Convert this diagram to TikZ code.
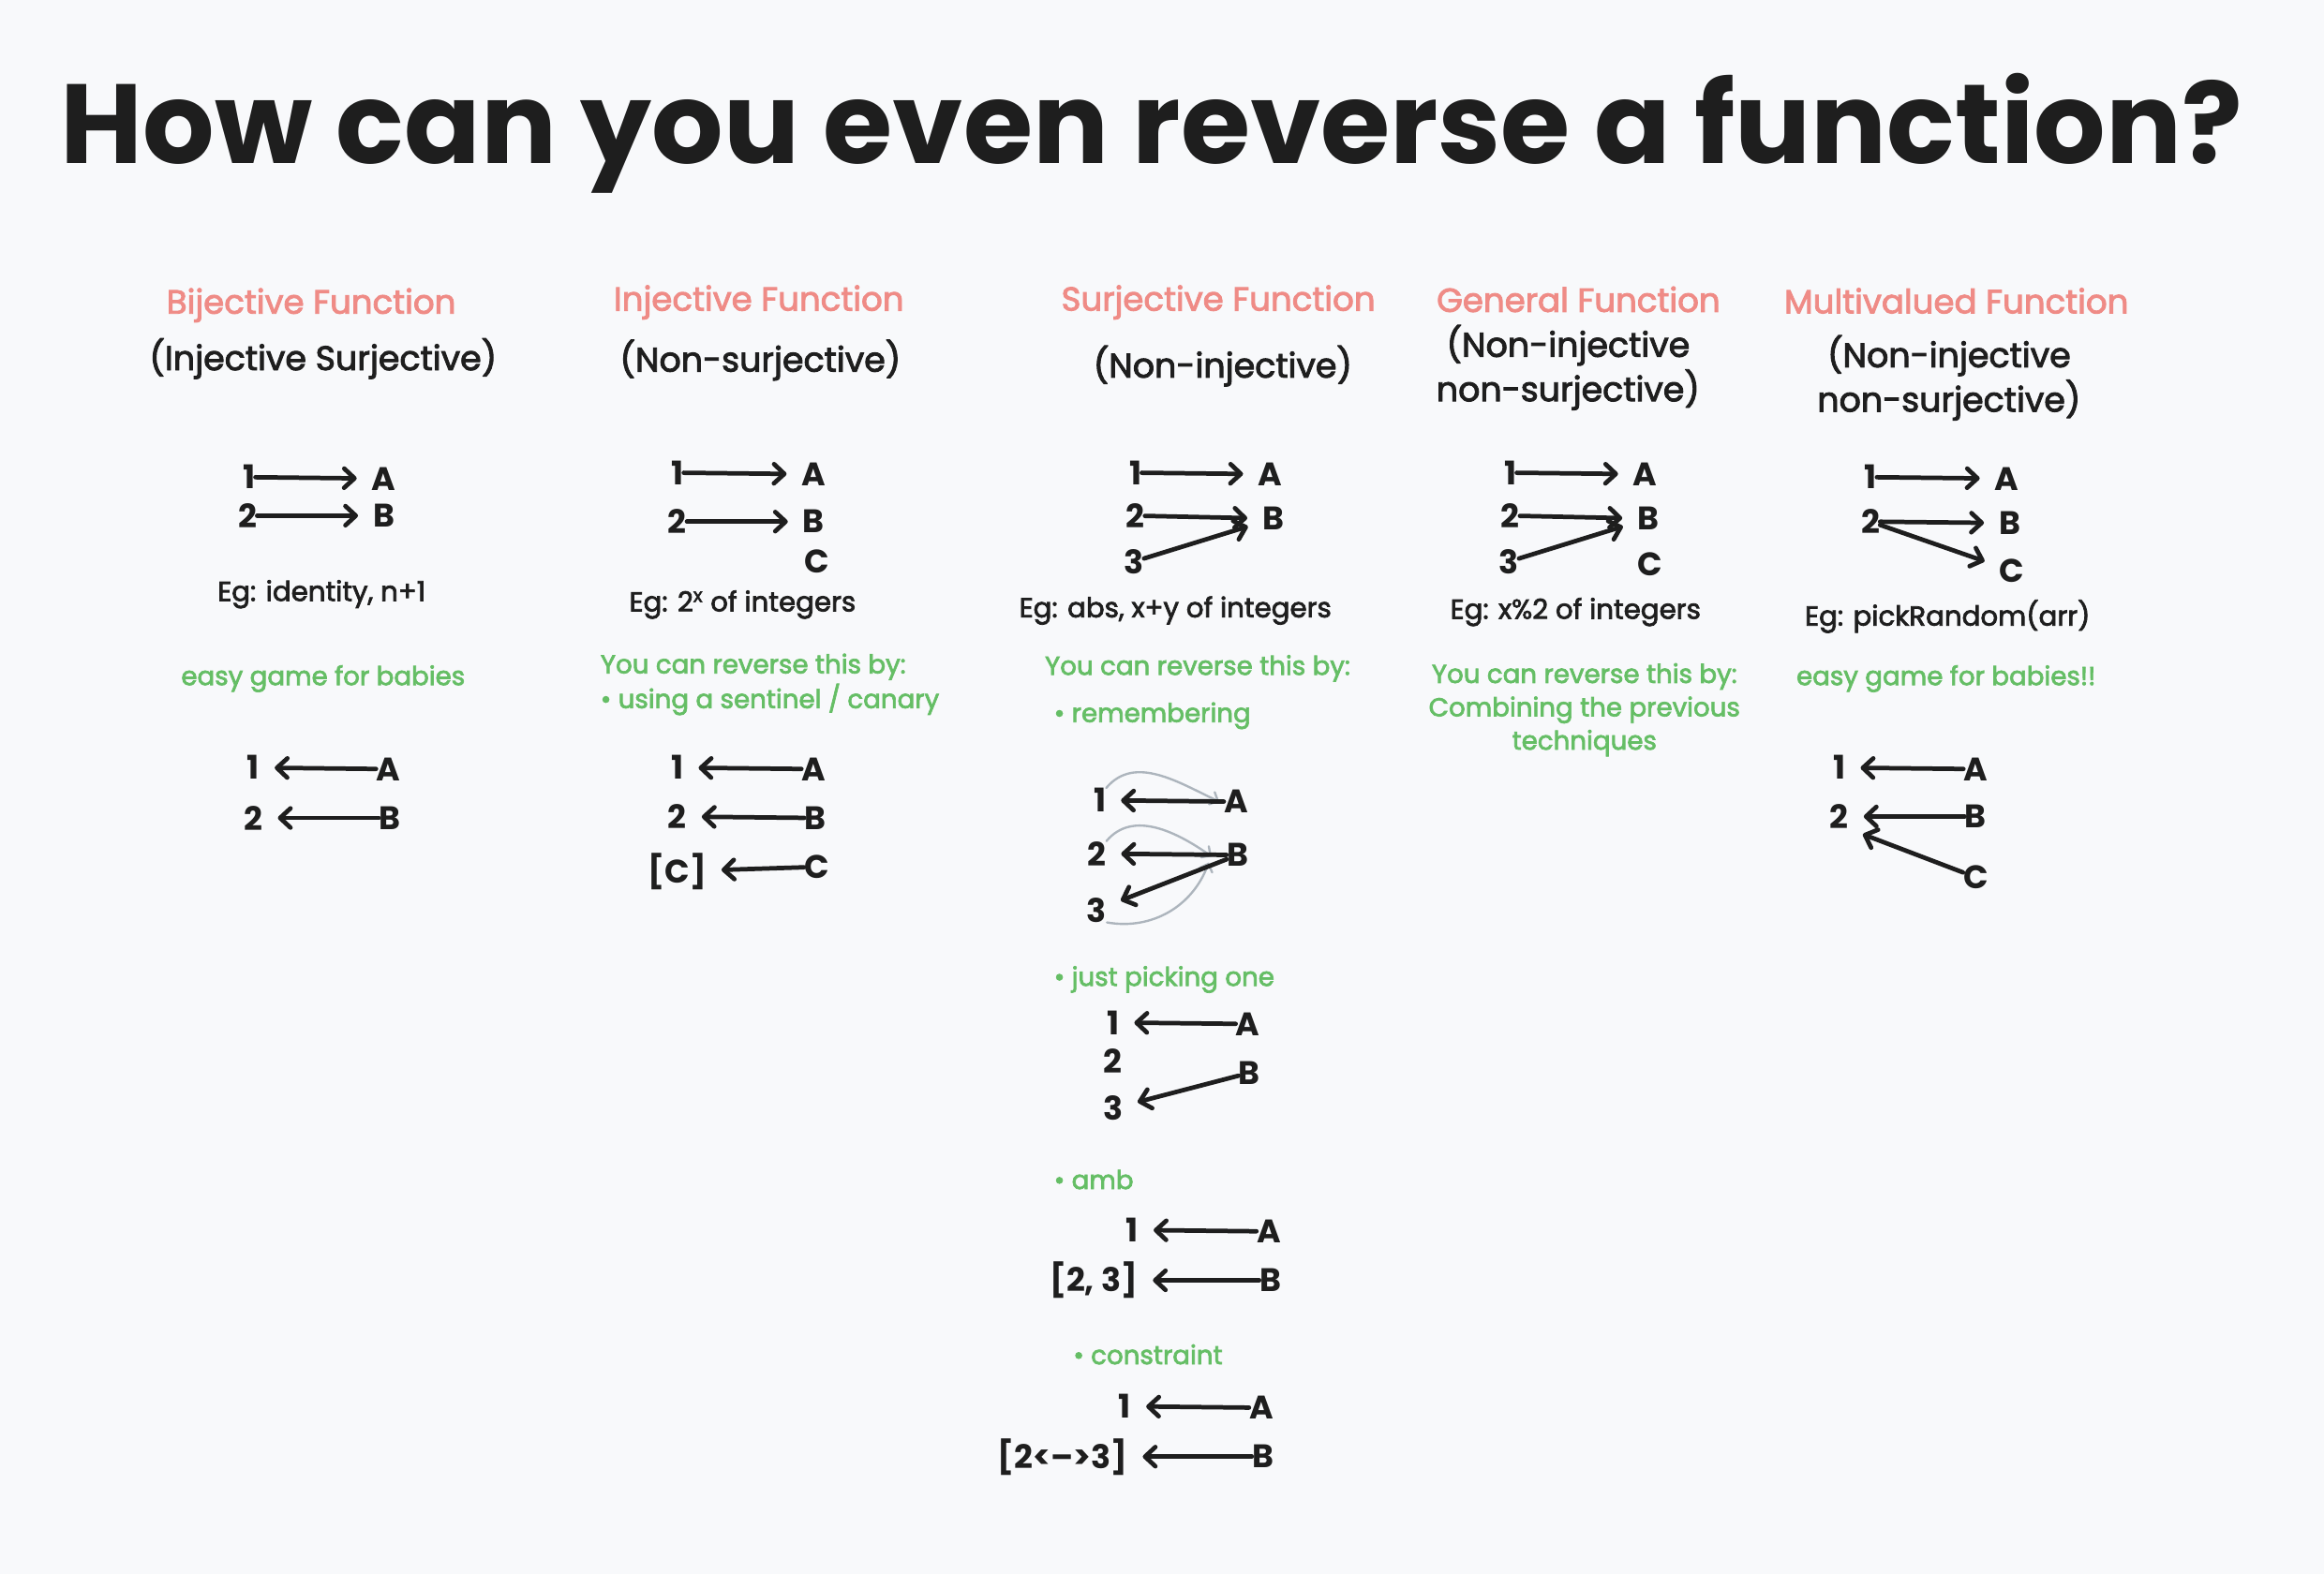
\documentclass[tikz,border=0pt]{standalone}
\usepackage{fontspec}
\setmainfont{Poppins}
\newfontfamily\hf{Poppins}[FakeBold=2.5]
\usetikzlibrary{arrows.meta}
\definecolor{bgc}{HTML}{F8F9FB}
\definecolor{pinkc}{HTML}{EF8B86}
\definecolor{greenc}{HTML}{65BE65}
\definecolor{inkc}{HTML}{1E1E1E}
\definecolor{grayc}{HTML}{ADB5BD}
\tikzset{
  ttl/.style={font=\fontsize{76}{86}\selectfont\bfseries, text=inkc, inner sep=0},
  head/.style={font=\hf\fontsize{22.5}{26}\selectfont, text=pinkc, inner sep=0},
  sub/.style={font=\hf\fontsize{23}{30}\selectfont, text=inkc, inner sep=0, align=center},
  lbl/.style={font=\fontsize{22}{26}\selectfont\bfseries, text=inkc, inner sep=0},
  eg/.style={font=\hf\fontsize{18.5}{22}\selectfont, text=inkc, inner sep=0},
  grn/.style={font=\hf\fontsize{17.5}{22.5}\selectfont, text=greenc, inner sep=0},
  arr/.style={draw=inkc, line width=3pt, line cap=round, line join=round,
    -{Straight Barb[length=7pt,width=13pt,line cap=round,line join=round]}, shorten >=10pt},
  garr/.style={draw=grayc, line width=1.5pt, line cap=round,
    -{Straight Barb[length=4.5pt,width=9pt,line cap=round]}},
}
\begin{document}
\begin{tikzpicture}[x=1pt,y=1pt]
\useasboundingbox (0,0) rectangle (1568,-1062);
\fill[bgc] (0,0) rectangle (1568,-1062);

\node[ttl] (title) at (777,-90) {How can you even reverse a function?};

% ---------- Column 1: Bijective ----------
\node[head] (h1) at (210,-206) {Bijective Function};
\node[sub] (s1) at (218,-242) {(Injective Surjective)};
\node[lbl] (b1) at (168,-322) {1};
\node[lbl] (bA) at (259,-323) {A};
\node[lbl] (b2) at (167,-348) {2};
\node[lbl] (bB) at (259,-348) {B};
\draw[arr] (b1) -- (bA);
\draw[arr] (b2) -- (bB);
\node[eg] (beg) at (217,-401) {Eg: identity, n+1};
\node[grn] (bgr) at (218,-458) {easy game for babies};
\node[lbl] (br1) at (171,-518) {1};
\node[lbl] (brA) at (262,-519) {A};
\node[lbl] (br2) at (171,-552) {2};
\node[lbl] (brB) at (263,-552) {B};
\draw[arr] (brA) -- (br1);
\draw[arr] (brB) -- (br2);

% ---------- Column 2: Injective ----------
\node[head] (h2) at (512,-204) {Injective Function};
\node[sub] (s2) at (513,-243) {(Non-surjective)};
\node[lbl] (i1) at (457,-319) {1};
\node[lbl] (iA) at (549,-320) {A};
\node[lbl] (i2) at (457,-352) {2};
\node[lbl] (iB) at (549,-352) {B};
\node[lbl] (iC) at (551,-379) {C};
\draw[arr] (i1) -- (iA);
\draw[arr] (i2) -- (iB);
\node[eg] (ieg) at (501,-408) {Eg: 2\textsuperscript{x} of integers};
\node[grn, anchor=west] (igr1) at (405,-450) {You can reverse this by:};
\node[grn, anchor=west] (igr2) at (405,-472) {• using a sentinel / canary};
\node[lbl] (ir1) at (457,-518) {1};
\node[lbl] (irA) at (549,-519) {A};
\node[lbl] (ir2) at (457,-551) {2};
\node[lbl] (irB) at (550,-552) {B};
\node[lbl] (ir3) at (457,-588) {[C]};
\node[lbl] (irC) at (551,-585) {C};
\draw[arr] (irA) -- (ir1);
\draw[arr] (irB) -- (ir2);
\draw[arr] (irC) -- (ir3);

% ---------- Column 3: Surjective ----------
\node[head] (h3) at (822,-204) {Surjective Function};
\node[sub] (s3) at (825,-247) {(Non-injective)};
\node[lbl] (u1) at (766,-319) {1};
\node[lbl] (uA) at (857,-320) {A};
\node[lbl] (u2) at (766,-348) {2};
\node[lbl] (uB) at (859,-350) {B};
\node[lbl] (u3) at (765,-379) {3};
\draw[arr] (u1) -- (uA);
\draw[arr] (u2) -- (uB);
\draw[arr] (u3) -- (uB);
\node[eg] (ueg) at (793,-412) {Eg: abs, x+y of integers};
\node[grn] (ugr1) at (808,-451) {You can reverse this by:};
\node[grn, anchor=west] (ugr2) at (711,-483) {• remembering};
% remembering
\node[lbl] (r1) at (742,-540) {1};
\node[lbl] (rA) at (834,-541) {A};
\node[lbl] (r2) at (740,-576) {2};
\node[lbl] (rB) at (835,-577) {B};
\node[lbl] (r3) at (740,-614) {3};
\draw[garr] (r1.north east) to[out=50,in=155] ([xshift=-3pt]rA.west);
\draw[garr] (r2.north east) to[out=50,in=145] ([xshift=-10pt,yshift=-1pt]rB.west);
\draw[garr] (r3.south east) to[out=-10,in=-110] ([xshift=-12pt,yshift=-5pt]rB.west);
\draw[arr] (rA) -- (r1);
\draw[arr] (rB) -- (r2);
\draw[arr] (rB) -- (r3);
% just picking one
\node[grn, anchor=west] (ugr3) at (711,-661) {• just picking one};
\node[lbl] (p1) at (751,-690) {1};
\node[lbl] (pA) at (842,-691) {A};
\node[lbl] (p2) at (751,-716) {2};
\node[lbl] (pB) at (843,-724) {B};
\node[lbl] (p3) at (751,-748) {3};
\draw[arr] (pA) -- (p1);
\draw[arr] (pB) -- (p3);
% amb
\node[grn, anchor=west] (ugr4) at (711,-796) {• amb};
\node[lbl] (a1) at (764,-830) {1};
\node[lbl] (aA) at (856,-831) {A};
\node[lbl] (a2) at (738,-864) {[2, 3]};
\node[lbl] (aB) at (857,-864) {B};
\draw[arr] (aA) -- (a1);
\draw[arr] (aB) -- (a2);
% constraint
\node[grn, anchor=west] (ugr5) at (724,-914) {• constraint};
\node[lbl] (c1) at (759,-949) {1};
\node[lbl] (cA) at (851,-950) {A};
\node[lbl] (c2) at (717,-983) {[2<–>3]};
\node[lbl] (cB) at (852,-983) {B};
\draw[arr] (cA) -- (c1);
\draw[arr] (cB) -- (c2);

% ---------- Column 4: General ----------
\node[head] (h4) at (1065,-202) {General Function};
\node[sub] (s4) at (1058,-248) {(Non-injective\\non-surjective)};
\node[lbl] (g1) at (1019,-319) {1};
\node[lbl] (gA) at (1110,-320) {A};
\node[lbl] (g2) at (1019,-348) {2};
\node[lbl] (gB) at (1112,-350) {B};
\node[lbl] (g3) at (1018,-379) {3};
\node[lbl] (gC) at (1113,-381) {C};
\draw[arr] (g1) -- (gA);
\draw[arr] (g2) -- (gB);
\draw[arr] (g3) -- (gB);
\node[eg] (geg) at (1063,-413) {Eg: x\%2 of integers};
\node[grn, align=center] (ggr) at (1069,-479) {You can reverse this by:\\Combining the previous\\techniques};

% ---------- Column 5: Multivalued ----------
\node[head] (h5) at (1320,-203) {Multivalued Function};
\node[sub] (s5) at (1315,-255) {(Non-injective\\non-surjective)};
\node[lbl] (m1) at (1262,-322) {1};
\node[lbl] (mA) at (1354,-323) {A};
\node[lbl] (m2) at (1262,-352) {2};
\node[lbl] (mB) at (1356,-353) {B};
\node[lbl] (mC) at (1357,-385) {C};
\draw[arr] (m1) -- (mA);
\draw[arr] (m2) -- (mB);
\draw[arr] (m2) -- (mC);
\node[eg] (meg) at (1314,-416) {Eg: pickRandom(arr)};
\node[grn] (mgr) at (1313,-458) {easy game for babies!!};
\node[lbl] (mr1) at (1241,-518) {1};
\node[lbl] (mrA) at (1333,-519) {A};
\node[lbl] (mr2) at (1241,-551) {2};
\node[lbl] (mrB) at (1333,-551) {B};
\node[lbl] (mrC) at (1333,-592) {C};
\draw[arr] (mrA) -- (mr1);
\draw[arr] (mrB) -- (mr2);
\draw[arr] (mrC) -- (mr2.south east);
\end{tikzpicture}
\end{document}
